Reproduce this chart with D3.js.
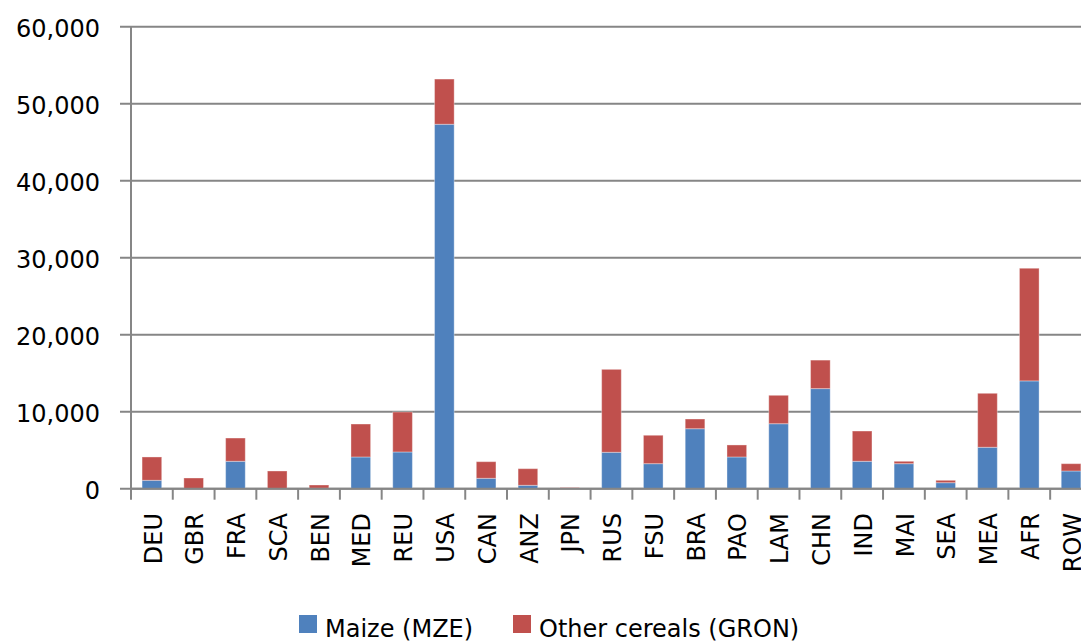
<!DOCTYPE html>
<html>
<head>
<meta charset="utf-8">
<script src="https://cdn.jsdelivr.net/npm/d3@7"></script>
<style>
  body { margin: 0; background: #fff; }
  svg { display: block; font-family: "DejaVu Sans", sans-serif; }
</style>
</head>
<body>
<div id="chart"></div>
<script>
(function(){

    // Regions (x-axis categories)
    const regions = ["DEU", "GBR", "FRA", "SCA", "BEN", "MED", "REU", "USA", "CAN", "ANZ", "JPN", "RUS",
                     "FSU", "BRA", "PAO", "LAM", "CHN", "IND", "MAI", "SEA", "MEA", "AFR", "ROW"];

    // Maize (MZE)
    const maize = [1090, 0, 3560, 0, 50, 4120, 4770, 47330, 1350, 440, 60, 4730,
                   3250, 7790, 4120, 8440, 13000, 3560, 3250, 780, 5380, 14000, 2300];

    // Other cereals (GRON)
    const otherCereals = [3030, 1390, 3020, 2300, 430, 4280, 5190, 5870, 2160, 2160, 90, 10770,
                          3690, 1260, 1560, 3690, 3700, 3930, 310, 310, 7010, 14630, 950];

    const seriesNames = ["Maize (MZE)", "Other cereals (GRON)"];
    const seriesColors = ["#4F81BD", "#C0504D"];
    const yTicks = [0, 10000, 20000, 30000, 40000, 50000, 60000];

    const width = 1081, height = 641;
    const left = 131, top = 26.7, bottom = 488.7, step = 41.78;

    let svg = d3.select("#chart")
        .append("svg")
        .attr("width", width)
        .attr("height", height);

    // Scales
    let x = d3.scaleBand()
        .domain(regions)
        .range([left, left + step * regions.length])
        .padding(0);

    let y = d3.scaleLinear()
        .domain([0, 60000])
        .range([bottom, top]);

    const gray = "#868686";

    // Gridlines
    svg.append("g")
        .selectAll("line")
        .data(yTicks)
        .enter()
        .append("line")
        .attr("x1", left - 11)
        .attr("x2", width)
        .attr("y1", d => y(d))
        .attr("y2", d => y(d))
        .style("stroke", gray)
        .style("stroke-width", 2);

    // Y tick labels
    svg.append("g")
        .selectAll("text")
        .data(yTicks)
        .enter()
        .append("text")
        .attr("x", 100)
        .attr("y", d => y(d))
        .attr("dy", "0.42em")
        .style("text-anchor", "end")
        .style("font-size", "24px")
        .style("fill", "#000")
        .text(d => d3.format(",")(d));

    // Stacked data
    const table = regions.map((r, i) => ({ region: r, maize: maize[i], other: otherCereals[i] }));
    const stack = d3.stack().keys(["maize", "other"])(table);

    const barW = x.bandwidth() * 0.47;

    svg.append("g")
        .selectAll("g")
        .data(stack)
        .enter()
        .append("g")
        .style("fill", (d, i) => seriesColors[i])
        .selectAll("rect")
        .data(d => d)
        .enter()
        .append("rect")
        .attr("x", d => x(d.data.region) + (x.bandwidth() - barW) / 2)
        .attr("y", d => y(d[1]))
        .attr("width", barW)
        .attr("height", d => Math.max(0, y(d[0]) - y(d[1])))
        .style("stroke", "rgba(255,255,255,0.35)")
        .style("stroke-width", 1);

    // Y axis line
    svg.append("line")
        .attr("x1", left).attr("x2", left)
        .attr("y1", top).attr("y2", bottom + 11)
        .style("stroke", gray)
        .style("stroke-width", 2);

    // X axis baseline
    svg.append("line")
        .attr("x1", left).attr("x2", width)
        .attr("y1", bottom).attr("y2", bottom)
        .style("stroke", gray)
        .style("stroke-width", 2);

    // X tick marks at category boundaries
    svg.append("g")
        .selectAll("line")
        .data(regions)
        .enter()
        .append("line")
        .attr("x1", d => x(d) + x.bandwidth())
        .attr("x2", d => x(d) + x.bandwidth())
        .attr("y1", bottom)
        .attr("y2", bottom + 11)
        .style("stroke", gray)
        .style("stroke-width", 2);

    // X labels, rotated
    svg.append("g")
        .selectAll("text")
        .data(regions)
        .enter()
        .append("text")
        .attr("transform", d => `translate(${x(d) + x.bandwidth() / 2 + 1}, 513) rotate(-90)`)
        .attr("dy", "0.36em")
        .style("text-anchor", "end")
        .style("font-size", "24px")
        .style("fill", "#000")
        .text(d => d);

    // Legend
    const legendX = [299, 513];
    let legend = svg.append("g")
        .selectAll("g")
        .data(seriesNames)
        .enter()
        .append("g")
        .attr("transform", (d, i) => `translate(${legendX[i]}, 615)`);

    legend.append("rect")
        .attr("width", 18)
        .attr("height", 18)
        .style("fill", (d, i) => seriesColors[i]);

    legend.append("text")
        .attr("x", 26)
        .attr("y", 22)
        .style("font-size", "24px")
        .style("fill", "#000")
        .text(d => d);

})();
</script>
</body>
</html>
